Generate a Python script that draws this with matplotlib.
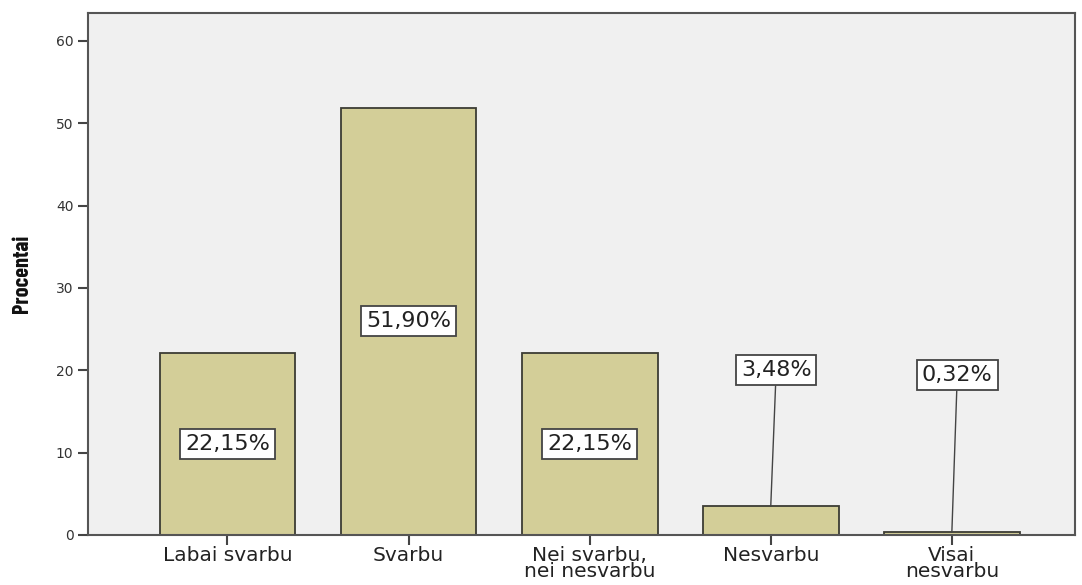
import matplotlib
matplotlib.use("Agg")
import matplotlib.pyplot as plt
import numpy as np

categories = ["Labai svarbu", "Svarbu", "Nei svarbu,\nnei nesvarbu", "Nesvarbu", "Visai\nnesvarbu"]
percents = [22.15, 51.90, 22.15, 3.48, 0.32]
labels = ["22,15%", "51,90%", "22,15%", "3,48%", "0,32%"]
yticks = [0, 10, 20, 30, 40, 50, 60]

fig = plt.figure(figsize=(10.82, 5.85), dpi=100)
ax = fig.add_axes([88 / 1082, 50 / 585, (1075 - 88) / 1082, (535 - 13) / 585])
ax.set_facecolor("#f0f0f0")

x = np.arange(len(categories))
ax.bar(x, percents, width=0.75, color="#d3ce98", edgecolor="#3c3c34", linewidth=1.3, zorder=2)

box = dict(boxstyle="square,pad=0.22", facecolor="white", edgecolor="#444444", linewidth=1.3)
for xi, v, lab in zip(x, percents, labels):
    if v > 10:
        ax.text(xi, v / 2, lab, ha="center", va="center", fontsize=16,
                color="#222222", bbox=box, zorder=4)
    else:
        # small bars get the label lifted up with a leader line
        ty = 20 if v > 1 else 19.4
        ax.annotate(lab, xy=(xi, v), xytext=(xi + 0.03, ty), ha="center", va="center",
                    fontsize=16, color="#222222", bbox=box, zorder=4,
                    arrowprops=dict(arrowstyle="-", color="#444444", linewidth=1.0,
                                    shrinkA=0, shrinkB=0))

ax.set_xlim(-0.77, 4.68)
ax.set_ylim(0, 63.4)
ax.set_yticks(yticks)
ax.set_yticklabels([str(t) for t in yticks], fontsize=10, color="#333333")
ax.set_xticks(x)
ax.set_xticklabels(categories, fontsize=14.5, color="#222222", linespacing=0.8)
ax.tick_params(axis="both", length=7, width=1.5, color="#444444")
ax.tick_params(axis="x", pad=1)
for side in ["left", "bottom", "top", "right"]:
    ax.spines[side].set_color("#555555")
    ax.spines[side].set_linewidth(1.5)

ax.set_ylabel("Procentai", fontsize=16, fontweight="bold",
              family=["Barlow Condensed", "DejaVu Sans"], color="#111111")
ax.yaxis.set_label_coords((32 - 88) / 987, 0.5)

fig.savefig("out.png", dpi=100)
